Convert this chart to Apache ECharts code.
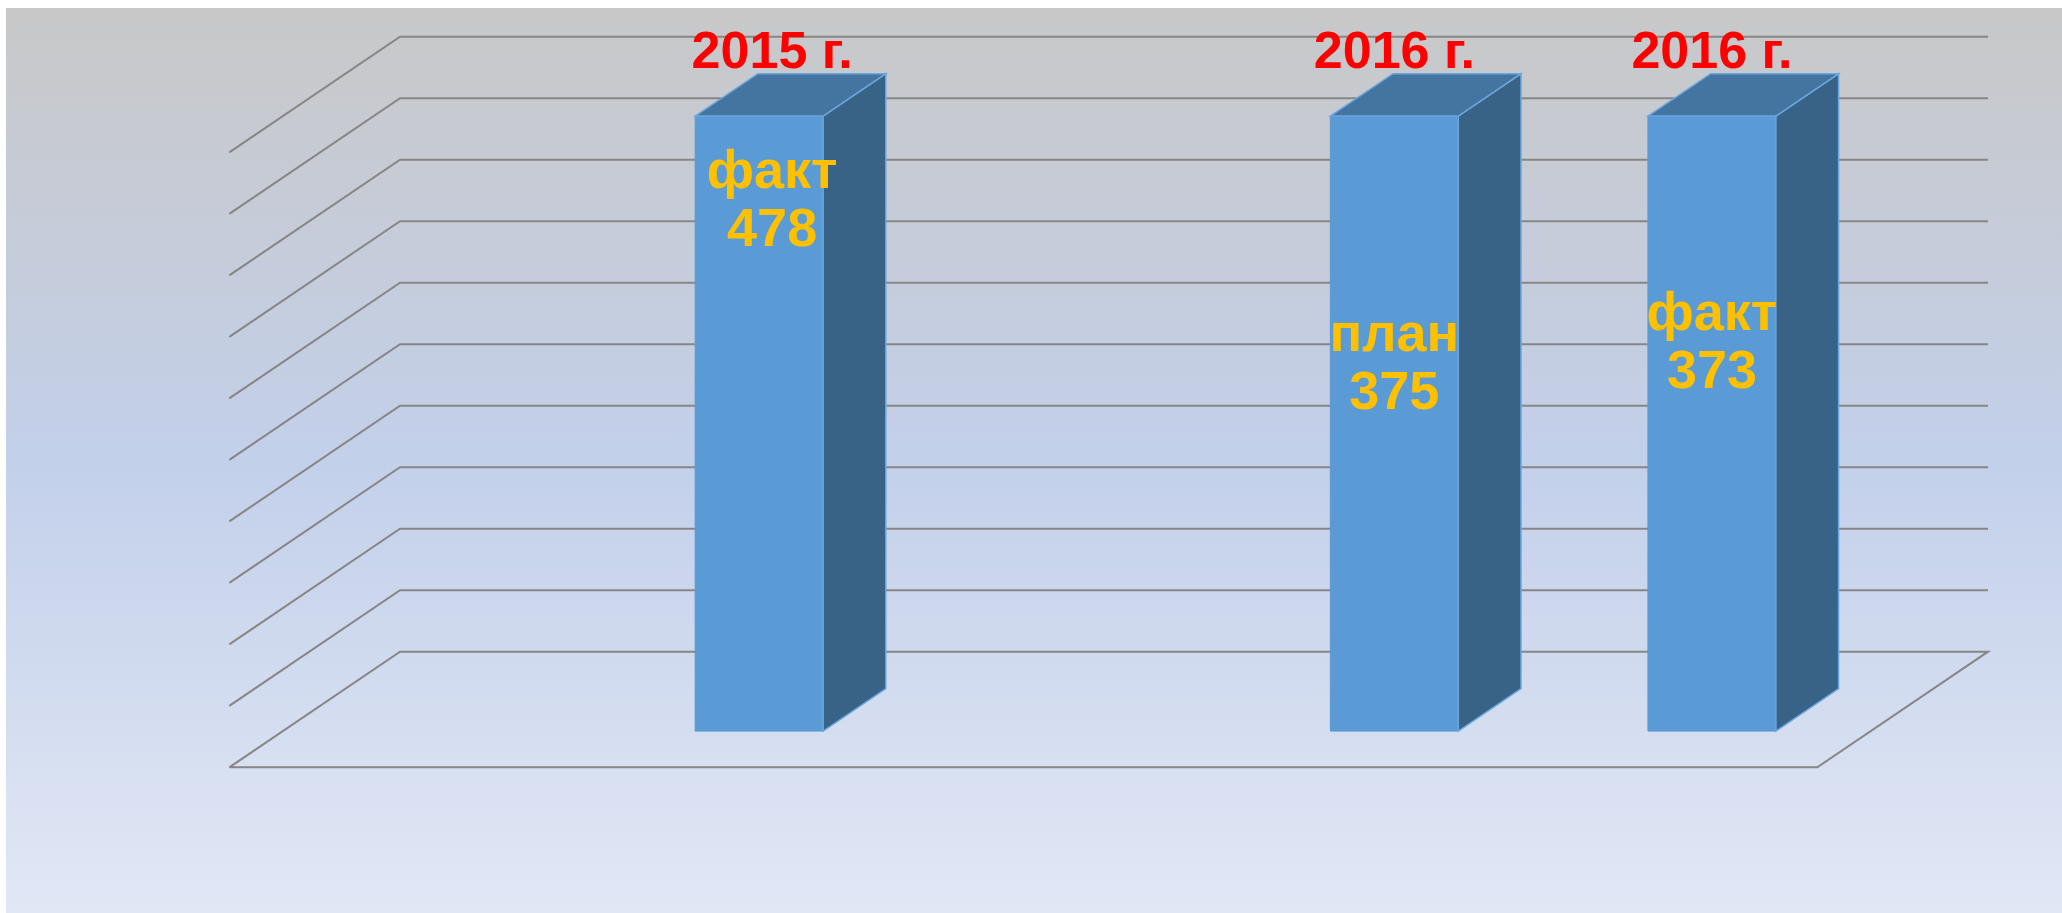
<!DOCTYPE html>
<html><head><meta charset="utf-8">
<script src="https://cdn.jsdelivr.net/npm/echarts@6/dist/echarts.min.js"></script>
<style>html,body{margin:0;padding:0;background:#fff;overflow:hidden}#c{width:2062px;height:913px}</style>
</head><body><div id="c"></div>
<script>
// ---- data ----
const categories = ['', '2015 г.', '', '2016 г.', '2016 г.'];
const barValues = [null, 100, null, 100, 100];
const innerTitles = ['', 'факт', '', 'план', 'факт'];
const innerNumbers = [null, 478, null, 375, 373];
const gridValues = [0, 10, 20, 30, 40, 50, 60, 70, 80, 90, 100];
const yMin = 0, yMax = 100, yInterval = 10;

// ---- layout / style (not data) ----
const innerLabelLevels = [null, 86, null, 59.5, 63]; // axis level of each inside label's centre
const labelShiftX = [0, 13, 0, 0, 0];                 // small manual label nudges, px
const DEPTH_X = 0.1075, DEPTH_Y = 0.188;  // wall depth as share of grid width / height
const BAR_FRONT = 0.313, BAR_DEPTH = 0.367, BAR_WIDTH = 0.403;
const FONT = '"Liberation Sans", Arial, sans-serif';

const chart = echarts.init(document.getElementById('c'), null, {renderer: 'canvas'});

function renderWall(params, api) {
  const cs = params.coordSys;
  const v = api.value(1);
  const y = api.coord([0, v])[1];
  const dx = cs.width * DEPTH_X, dy = -cs.height * DEPTH_Y;
  const x0 = cs.x, x1 = cs.x + cs.width;
  const pts = v === yMin
    ? [[x0, y], [x0 + dx, y + dy], [x1 + dx, y + dy], [x1, y], [x0, y]]
    : [[x0, y], [x0 + dx, y + dy], [x1 + dx, y + dy]];
  return {type: 'polyline', shape: {points: pts},
    style: {stroke: '#868686', lineWidth: 2, fill: null}};
}

function renderBar(params, api) {
  const cs = params.coordSys;
  const cat = api.value(0), val = api.value(1);
  const top = api.coord([cat, val]), base = api.coord([cat, yMin]);
  const catW = api.size([1, 0])[0];
  const dx = cs.width * DEPTH_X, dy = -cs.height * DEPTH_Y;
  const w = catW * BAR_WIDTH;
  const fx = BAR_FRONT * dx, fy = BAR_FRONT * dy;
  const L = top[0] + fx - w / 2, R = L + w, T = top[1] + fy, B = base[1] + fy;
  const bx = BAR_DEPTH * dx, by = BAR_DEPTH * dy;
  const edge = '#6AA6DE';
  const labY = api.coord([cat, innerLabelLevels[cat]])[1] + fy;
  const cx = (L + R) / 2 + labelShiftX[cat];
  return {type: 'group', children: [
    {type: 'polygon', shape: {points: [[L, T], [R, T], [R, B], [L, B]]},
      style: {fill: '#5B9BD5', stroke: '#5B9BD5', lineWidth: 1}},
    {type: 'polygon', shape: {points: [[R, T], [R + bx, T + by], [R + bx, B + by], [R, B]]},
      style: {fill: '#386386', stroke: edge, lineWidth: 1.5}},
    {type: 'polygon', shape: {points: [[L, T], [L + bx, T + by], [R + bx, T + by], [R, T]]},
      style: {fill: '#4475A0', stroke: edge, lineWidth: 1.5}},
    {type: 'text', style: {x: cx, y: T + by - 20, text: categories[cat],
      fill: '#FF0000', font: 'bold 52px ' + FONT, align: 'center', verticalAlign: 'middle'}},
    {type: 'text', style: {x: cx, y: labY,
      text: innerTitles[cat] + '\n' + innerNumbers[cat],
      fill: '#FFC000', font: 'bold 54px ' + FONT, lineHeight: 58,
      align: 'center', verticalAlign: 'middle'}}
  ]};
}

const barData = [];
barValues.forEach((v, i) => { if (v != null) barData.push([i, v]); });

chart.setOption({
  animation: false,
  graphic: [{type: 'rect', z: -100, silent: true,
    shape: {x: 6, y: 8, width: 2056, height: 905},
    style: {fill: new echarts.graphic.LinearGradient(0, 0, 0, 1, [
      {offset: 0, color: '#C8C8C8'},
      {offset: 0.5, color: '#C3D0EA'},
      {offset: 1, color: '#E1E7F5'}])}}],
  grid: {left: 229.3, top: 152.3, width: 1588, height: 615},
  xAxis: {type: 'category', data: categories.map((c, i) => String(i)), show: false},
  yAxis: {type: 'value', min: yMin, max: yMax, interval: yInterval, show: false},
  series: [
    {type: 'custom', name: 'walls', clip: false, z: 1, silent: true,
      renderItem: renderWall, data: gridValues.map(v => [0, v])},
    {type: 'custom', name: 'bars', clip: false, z: 5,
      renderItem: renderBar, data: barData}
  ]
});
</script></body></html>
